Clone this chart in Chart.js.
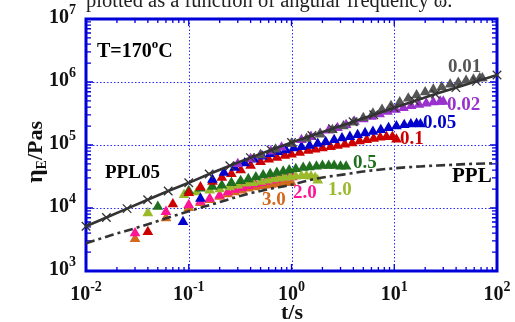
<!DOCTYPE html>
<html><head><meta charset="utf-8">
<script src="https://cdn.jsdelivr.net/npm/chart.js@4.4.0/dist/chart.umd.min.js"></script>
<style>html,body{margin:0;padding:0;background:#fff;}#wrap{width:515px;height:322px;position:relative;}</style>
</head><body><div id="wrap"><canvas id="c" width="515" height="322"></canvas></div>
<script>
// ---- tick labels (decade exponents) ----
const xTickExps = [-2, -1, 0, 1, 2];
const yTickExps = [3, 4, 5, 6, 7];

// ---- linear viscoelastic envelope (solid line with x markers) ----
const tLine   = [0.01,0.0158,0.0251,0.0398,0.0631,0.1,0.158,0.251,0.398,0.631,1,1.58,2.51,3.98,6.31,10,15.8,25.1,39.8,63.1,100];
const etaLine = [5130,7080,9770,13500,18600,25100,34700,46800,63100,83200,109600,141300,182000,234400,302000,389000,501000,646000,813000,1023000,1288000];

// ---- PPL (dashed) ----
const tPPL   = [0.01,0.0178,0.0316,0.0562,0.1,0.178,0.316,0.562,1,1.78,3.16,5.62,10,17.8,31.6,56.2,100];
const etaPPL = [2750,3720,4900,6610,8910,11700,15500,19500,23400,29500,33900,38900,42700,45700,47900,50100,51300];

// ---- strain rate 0.01 ----
const t001   = [0.5,0.7,1.0,1.4,1.9,2.5,3.2,4.0,5.0,6.2,7.6,9.3,11.3,13.7,16.5,20,24,29,35,42,50,59,68,72];
const eta001 = [69200,85100,104700,125900,147900,173800,199500,229100,269200,316200,363100,416900,478600,549500,616600,691800,758600,831800,912000,977200,1047000,1096000,1148000,1148000];

// ---- strain rate 0.02 ----
const t002   = [0.3,0.4,0.5,0.63,0.8,1.0,1.25,1.55,1.9,2.3,2.8,3.4,4.1,5.0,6.0,7.2,8.6,10.3,12.3,14.6,17.4,20.5,24,28,30];
const eta002 = [50100,60300,69200,79400,91200,104700,120200,134900,151400,169800,186200,208900,234400,257000,281800,309000,338800,363100,389000,416900,436500,457100,478600,489800,489800];

// ---- strain rate 0.05 ----
const t005   = [0.088,0.13,0.17,0.22,0.28,0.35,0.43,0.52,0.62,0.74,0.88,1.05,1.25,1.5,1.8,2.15,2.6,3.1,3.7,4.4,5.2,6.2,7.4,8.8,10.5,12.5,14.5,16.5,18];
const eta005 = [6030,14100,28200,36300,43700,51300,58900,66100,72400,77600,83200,89100,93300,97700,104700,112200,120200,128800,134900,144500,154900,162200,173800,186200,199500,208900,213800,218800,213800];

// ---- strain rate 0.1 ----
const t01   = [0.04,0.07,0.1,0.13,0.17,0.21,0.26,0.32,0.4,0.5,0.6,0.72,0.86,1.0,1.2,1.45,1.7,2.0,2.4,2.8,3.3,3.9,4.6,5.4,6.3,7.3,8.4,9.6,10.5];
const eta01 = [4170,11500,17400,21400,26300,30200,34700,39800,46800,53700,58900,63100,67600,70800,75900,81300,85100,89100,93300,97700,102300,107200,114800,120200,125900,131800,134900,134900,123000];

// ---- strain rate 0.5 ----
const t05   = [0.05,0.1,0.13,0.17,0.21,0.26,0.32,0.38,0.45,0.53,0.62,0.72,0.83,0.95,1.1,1.3,1.5,1.75,2.0,2.3,2.6,3.0,3.4];
const eta05 = [10500,18600,20400,21900,22900,25100,26900,28800,30900,33100,34700,36300,38000,39800,41700,43700,44700,45700,46800,46800,46800,45700,45700];

// ---- strain rate 1.0 ----
const t10   = [0.04,0.09,0.12,0.16,0.2,0.25,0.3,0.36,0.42,0.5,0.58,0.67,0.76,0.86,0.97,1.1,1.25,1.4,1.55,1.7,1.8];
const eta10 = [8320,16200,17800,19100,20000,21400,22900,24500,25100,26300,27500,28800,29500,30200,30900,31600,32400,32400,31600,30200,27500];

// ---- strain rate 2.0 ----
const t20   = [0.03,0.06,0.1,0.13,0.16,0.2,0.24,0.28,0.33,0.38,0.44,0.5,0.56,0.63,0.7,0.78,0.86,0.95,1.02];
const eta20 = [3980,8710,11200,12600,14100,15800,17800,19500,20900,22400,24000,25100,26300,27500,28200,29500,30200,30900,30900];

// ---- strain rate 3.0 ----
const t30   = [0.03,0.06,0.1,0.13,0.16,0.2,0.24,0.28,0.33,0.38,0.44,0.5,0.56,0.63,0.7,0.78,0.86,0.95,1.0];
const eta30 = [3240,6920,10000,12000,13500,15100,16600,17800,19100,20400,21400,22400,22900,23400,24000,24500,25100,25100,25100];

const pts = (t, e) => t.map((x, i) => ({x: x, y: e[i]}));
const tri = (label, t, e, col) => ({label, data: pts(t, e), showLine: false, pointStyle: 'triangle',
  pointRadius: 6.2, pointBackgroundColor: col, pointBorderColor: col, pointBorderWidth: 0, pointHoverRadius: 6.2});

const BLUE = '#0000d8';
const serif = "'Liberation Serif','Times New Roman',serif";

const decor = {
  id: 'decor',
  beforeDatasetsDraw(chart) {
    const {ctx, chartArea: a, scales: {x, y}} = chart;
    ctx.save();
    ctx.strokeStyle = '#2b2bff'; ctx.lineWidth = 1; ctx.setLineDash([1.5, 2]);
    [0.1, 1, 10].forEach(v => { const px = Math.round(x.getPixelForValue(v)) + 0.5; ctx.beginPath(); ctx.moveTo(px, a.top); ctx.lineTo(px, a.bottom); ctx.stroke(); });
    [1e4, 1e5, 1e6].forEach(v => { const py = Math.round(y.getPixelForValue(v)) + 0.5; ctx.beginPath(); ctx.moveTo(a.left, py); ctx.lineTo(a.right, py); ctx.stroke(); });
    ctx.setLineDash([]);
    ctx.strokeStyle = BLUE; ctx.lineWidth = 1.3;
    for (let d = -2; d < 2; d++) for (let k = 1; k <= 9; k++) {
      const px = x.getPixelForValue(k * Math.pow(10, d)); const L = k === 1 ? 7 : 4;
      ctx.beginPath(); ctx.moveTo(px, a.bottom); ctx.lineTo(px, a.bottom - L); ctx.moveTo(px, a.top); ctx.lineTo(px, a.top + L); ctx.stroke();
    }
    for (let d = 3; d < 7; d++) for (let k = 1; k <= 9; k++) {
      const py = y.getPixelForValue(k * Math.pow(10, d)); const L = k === 1 ? 7 : 5;
      ctx.beginPath(); ctx.moveTo(a.left, py); ctx.lineTo(a.left + L, py); ctx.moveTo(a.right, py); ctx.lineTo(a.right - L, py); ctx.stroke();
    }
    ctx.strokeStyle = BLUE; ctx.lineWidth = 3;
    ctx.strokeRect(a.left, a.top, a.right - a.left, a.bottom - a.top);
    ctx.restore();
  },
  afterDraw(chart) {
    const {ctx, scales: {x, y}} = chart;
    ctx.save();
    ctx.textBaseline = 'alphabetic'; ctx.textAlign = 'left';
    ctx.fillStyle = '#222';
    const cap = 'plotted as a function of angular frequency \u03c9.';
    ctx.font = '18px ' + serif;
    const fs = 18 * 367 / ctx.measureText(cap).width;
    ctx.font = fs.toFixed(1) + 'px ' + serif;
    ctx.fillText(cap, 86, 7);
    ctx.fillStyle = '#111';
    const bF = 'bold 20px ' + serif, eF = 'bold 14px ' + serif;
    xTickExps.forEach(e => {
      const px = x.getPixelForValue(Math.pow(10, e));
      ctx.font = bF; const wb = ctx.measureText('10').width;
      ctx.font = eF; const es = String(e); const we = ctx.measureText(es).width;
      const s = px - (wb + we) / 2;
      ctx.font = bF; ctx.fillText('10', s, 300);
      ctx.font = eF; ctx.fillText(es, s + wb, 291);
    });
    yTickExps.forEach(e => {
      const py = y.getPixelForValue(Math.pow(10, e));
      ctx.font = bF; const wb = ctx.measureText('10').width;
      ctx.font = eF; const es = String(e); const we = ctx.measureText(es).width;
      const s = 76 - wb - we;
      ctx.font = bF; ctx.fillText('10', s, py + 4);
      ctx.font = eF; ctx.fillText(es, s + wb, py - 5);
    });
    ctx.font = 'bold 22px ' + serif; ctx.textAlign = 'center';
    ctx.fillText('t/s', 292, 319);
    ctx.save();
    ctx.translate(42, 152); ctx.rotate(-Math.PI / 2);
    ctx.textAlign = 'left';
    ctx.font = 'bold 24px ' + serif; const w1 = ctx.measureText('\u03b7').width;
    ctx.font = 'bold 14px ' + serif; const w2 = ctx.measureText('E').width;
    ctx.font = 'bold 22px ' + serif; const w3 = ctx.measureText('/Pas').width;
    let sx = -(w1 + w2 + w3) / 2;
    ctx.font = 'bold 24px ' + serif; ctx.fillText('\u03b7', sx, 0); sx += w1;
    ctx.font = 'bold 14px ' + serif; ctx.fillText('E', sx, 4); sx += w2;
    ctx.font = 'bold 22px ' + serif; ctx.fillText('/Pas', sx, 0);
    ctx.restore();
    ctx.textAlign = 'left';
    const lab = (txt, px, py, col, size) => { ctx.fillStyle = col; ctx.font = 'bold ' + (size || 19) + 'px ' + serif; ctx.fillText(txt, px, py); };
    lab('0.01', 448, 72, '#555555');
    lab('0.02', 447, 110, '#9932cc');
    lab('0.05', 423, 128, '#0000cc');
    lab('0.1', 400, 144, '#cc0000');
    lab('0.5', 353, 168, '#1f6f1f');
    lab('1.0', 328, 195, '#9aba2a');
    lab('2.0', 293, 198, '#ff1493');
    lab('3.0', 262, 205, '#d2691e');
    lab('PPL', 452, 182, '#000', 21);
    lab('PPL05', 105, 178, '#000', 19);
    ctx.fillStyle = '#000'; ctx.font = 'bold 20px ' + serif;
    ctx.fillText('T=170', 97, 57); let tx = 97 + ctx.measureText('T=170').width;
    ctx.font = 'bold 13px ' + serif; ctx.fillText('o', tx, 48); tx += ctx.measureText('o').width;
    ctx.font = 'bold 20px ' + serif; ctx.fillText('C', tx, 57);
    ctx.restore();
  }
};

new Chart(document.getElementById('c'), {
  type: 'scatter',
  data: {
    datasets: [
      {label: 'LVE', data: pts(tLine, etaLine), showLine: true, borderColor: '#333', borderWidth: 2.6,
        pointStyle: 'crossRot', pointRadius: 6, pointBorderColor: '#333', pointBorderWidth: 1.3, pointBackgroundColor: '#333', clip: false, tension: 0},
      {label: 'PPL', data: pts(tPPL, etaPPL), showLine: true, borderColor: '#333', borderWidth: 2.6,
        borderDash: [9, 4, 3, 4], pointRadius: 0, cubicInterpolationMode: 'monotone'},
      tri('0.01', t001, eta001, '#555555'),
      tri('0.02', t002, eta002, '#9932cc'),
      tri('0.05', t005, eta005, '#0000cc'),
      tri('0.1', t01, eta01, '#cc0000'),
      tri('0.5', t05, eta05, '#1f6f1f'),
      tri('1.0', t10, eta10, '#9aba2a'),
      tri('2.0', t20, eta20, '#ff1493'),
      tri('3.0', t30, eta30, '#d2691e')
    ]
  },
  options: {
    responsive: false, animation: false,
    layout: {padding: {left: 86, right: 18, top: 19, bottom: 51}},
    plugins: {legend: {display: false}, tooltip: {enabled: false}},
    scales: {
      x: {type: 'logarithmic', min: 0.01, max: 100, display: false},
      y: {type: 'logarithmic', min: 1000, max: 1e7, display: false}
    }
  },
  plugins: [decor]
});
</script></body></html>
